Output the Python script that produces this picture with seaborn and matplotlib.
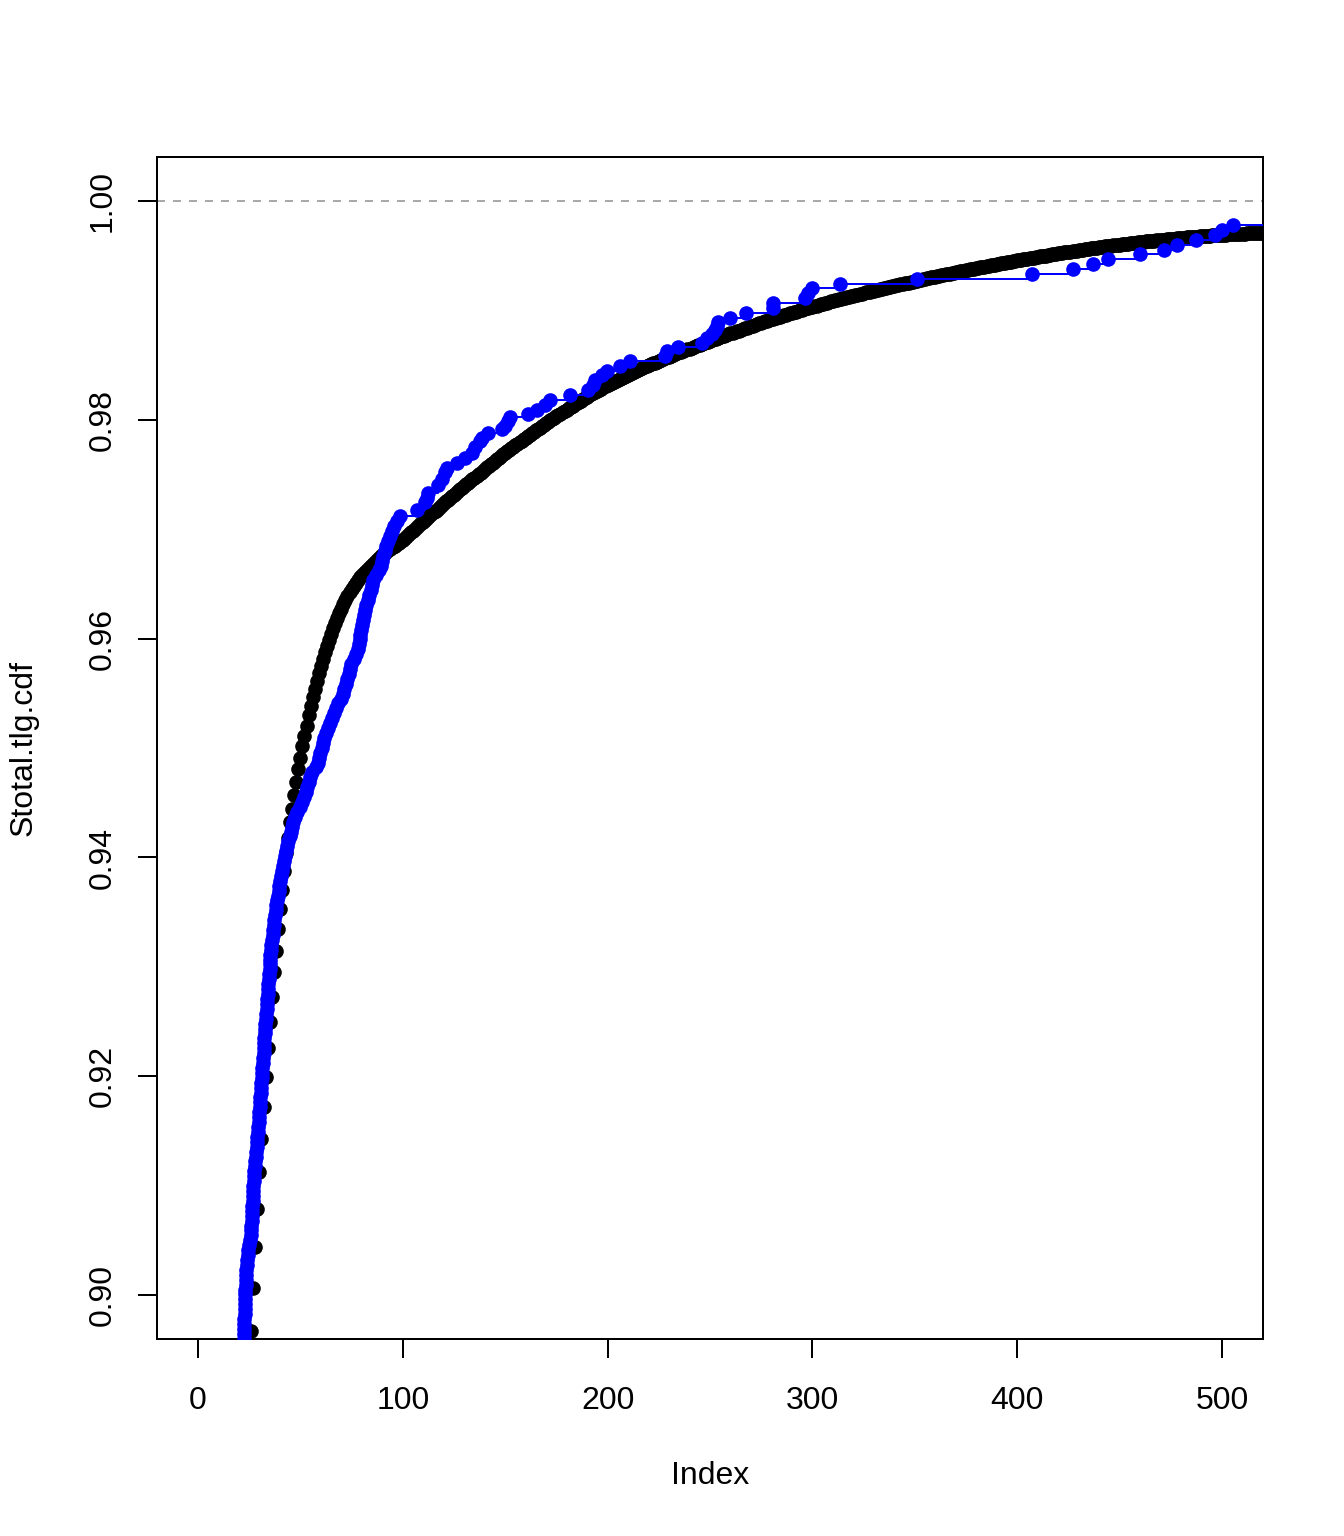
import numpy as np
import pandas as pd
import matplotlib
matplotlib.use("Agg")
import matplotlib.pyplot as plt
import seaborn as sns

# black series: Stotal.tlg.cdf, one value per index starting at index 26
first_index = 26
cdf_values = [
    0.89671, 0.90064, 0.90438, 0.90785, 0.91123, 0.91425, 0.91717, 0.91991, 0.92256, 0.92493,
    0.92726, 0.92950, 0.93146, 0.93342, 0.93525, 0.93699, 0.93872, 0.94037, 0.94178, 0.94320,
    0.94447, 0.94566, 0.94685, 0.94804, 0.94909, 0.95014, 0.95110, 0.95205, 0.95297, 0.95388,
    0.95470, 0.95543, 0.95616, 0.95689, 0.95753, 0.95817, 0.95881, 0.95936, 0.95991, 0.96046,
    0.96100, 0.96146, 0.96192, 0.96237, 0.96274, 0.96320, 0.96356, 0.96393, 0.96429, 0.96457,
    0.96484, 0.96511, 0.96539, 0.96562, 0.96584, 0.96603, 0.96621, 0.96639, 0.96658, 0.96676,
    0.96694, 0.96712, 0.96731, 0.96749, 0.96763, 0.96776, 0.96795, 0.96808, 0.96822, 0.96836,
    0.96849, 0.96863, 0.96877, 0.96890, 0.96904,
    0.96920, 0.96937, 0.96953, 0.96970, 0.96986, 0.97002, 0.97019, 0.97035, 0.97052, 0.97068,
    0.97085, 0.97102, 0.97119, 0.97136, 0.97153, 0.97169, 0.97186, 0.97203, 0.97220, 0.97237,
    0.97253, 0.97268, 0.97284, 0.97299, 0.97315, 0.97331, 0.97346, 0.97362, 0.97377, 0.97393,
    0.97409, 0.97424, 0.97440, 0.97455, 0.97471, 0.97486, 0.97502, 0.97517, 0.97533, 0.97548,
    0.97563, 0.97578, 0.97593, 0.97608, 0.97624, 0.97639, 0.97654, 0.97669, 0.97684, 0.97699,
    0.97713, 0.97726, 0.97740, 0.97754, 0.97768, 0.97781, 0.97795, 0.97809, 0.97822, 0.97836,
    0.97849, 0.97862, 0.97876, 0.97889, 0.97902, 0.97915, 0.97928, 0.97942, 0.97955, 0.97968,
    0.97980, 0.97993, 0.98005, 0.98017, 0.98030, 0.98042, 0.98054, 0.98066, 0.98079, 0.98091,
    0.98103, 0.98115, 0.98127, 0.98139, 0.98151, 0.98162, 0.98174, 0.98186, 0.98198, 0.98210,
    0.98221, 0.98231, 0.98242, 0.98252, 0.98263, 0.98273, 0.98284, 0.98294, 0.98305, 0.98315,
    0.98325, 0.98334, 0.98344, 0.98353, 0.98363, 0.98373, 0.98382, 0.98392, 0.98401, 0.98411,
    0.98420, 0.98428, 0.98437, 0.98446, 0.98455, 0.98463, 0.98472, 0.98481, 0.98489, 0.98498,
    0.98506, 0.98514, 0.98522, 0.98530, 0.98538, 0.98545, 0.98553, 0.98561, 0.98569, 0.98577,
    0.98584, 0.98592, 0.98599, 0.98606, 0.98614, 0.98621, 0.98628, 0.98635, 0.98643, 0.98650,
    0.98657, 0.98664, 0.98671, 0.98678, 0.98685, 0.98692, 0.98699, 0.98706, 0.98713, 0.98720,
    0.98727, 0.98734, 0.98740, 0.98747, 0.98754, 0.98761, 0.98768, 0.98774, 0.98781, 0.98788,
    0.98795, 0.98801, 0.98808, 0.98814, 0.98821, 0.98828, 0.98834, 0.98841, 0.98847, 0.98854,
    0.98860, 0.98867, 0.98873, 0.98879, 0.98886, 0.98892, 0.98898, 0.98904, 0.98911, 0.98917,
    0.98923, 0.98929, 0.98935, 0.98941, 0.98947, 0.98953, 0.98959, 0.98965, 0.98971, 0.98977,
    0.98983, 0.98988, 0.98994, 0.98999, 0.99005, 0.99011, 0.99016, 0.99022, 0.99027, 0.99033,
    0.99038, 0.99043, 0.99049, 0.99054, 0.99059, 0.99064, 0.99069, 0.99075, 0.99080, 0.99085,
    0.99090, 0.99095, 0.99100, 0.99105, 0.99110, 0.99114, 0.99119, 0.99124, 0.99129, 0.99134,
    0.99139, 0.99143, 0.99148, 0.99152, 0.99157, 0.99162, 0.99166, 0.99171, 0.99175, 0.99180,
    0.99184, 0.99189, 0.99193, 0.99198, 0.99202, 0.99206, 0.99211, 0.99215, 0.99220, 0.99224,
    0.99228, 0.99232, 0.99237, 0.99241, 0.99245, 0.99249, 0.99253, 0.99258, 0.99262, 0.99266,
    0.99270, 0.99274, 0.99278, 0.99282, 0.99287, 0.99291, 0.99295, 0.99299, 0.99303, 0.99307,
    0.99311, 0.99315, 0.99319, 0.99323, 0.99327, 0.99330, 0.99334, 0.99338, 0.99342, 0.99346,
    0.99350, 0.99354, 0.99357, 0.99361, 0.99365, 0.99369, 0.99373, 0.99376, 0.99380, 0.99384,
    0.99388, 0.99391, 0.99395, 0.99398, 0.99402, 0.99406, 0.99409, 0.99413, 0.99416, 0.99420,
    0.99424, 0.99427, 0.99431, 0.99434, 0.99438, 0.99441, 0.99445, 0.99448, 0.99452, 0.99455,
    0.99458, 0.99462, 0.99465, 0.99468, 0.99472, 0.99475, 0.99478, 0.99481, 0.99485, 0.99488,
    0.99491, 0.99494, 0.99497, 0.99500, 0.99504, 0.99507, 0.99510, 0.99513, 0.99516, 0.99519,
    0.99522, 0.99525, 0.99528, 0.99531, 0.99534, 0.99536, 0.99539, 0.99542, 0.99545, 0.99548,
    0.99551, 0.99553, 0.99556, 0.99559, 0.99562, 0.99564, 0.99567, 0.99570, 0.99572, 0.99575,
    0.99578, 0.99580, 0.99583, 0.99585, 0.99588, 0.99590, 0.99593, 0.99595, 0.99598, 0.99600,
    0.99602, 0.99604, 0.99607, 0.99609, 0.99611, 0.99613, 0.99615, 0.99618, 0.99620, 0.99622,
    0.99624, 0.99626, 0.99628, 0.99630, 0.99632, 0.99634, 0.99636, 0.99638, 0.99640, 0.99642,
    0.99644, 0.99646, 0.99647, 0.99649, 0.99651, 0.99653, 0.99655, 0.99656, 0.99658, 0.99660,
    0.99662, 0.99663, 0.99665, 0.99666, 0.99668, 0.99670, 0.99671, 0.99673, 0.99674, 0.99676,
    0.99677, 0.99679, 0.99680, 0.99681, 0.99683, 0.99684, 0.99685, 0.99686, 0.99688, 0.99689,
    0.99690, 0.99691, 0.99692, 0.99693, 0.99695, 0.99696, 0.99697, 0.99698, 0.99699, 0.99700,
    0.99701, 0.99702, 0.99703, 0.99704, 0.99705, 0.99706, 0.99707, 0.99708, 0.99709, 0.99710,
    0.99711, 0.99712,
]

# blue series: empirical cdf, jump locations and levels
ecdf_x = [
    22.2, 22.3, 22.4, 22.5, 22.6, 22.7, 22.8, 22.9, 22.9, 23.0,
    23.1, 23.2, 23.3, 23.4, 23.5, 23.6, 23.7, 23.9, 24.3, 24.6,
    25.0, 25.3, 25.7, 26.0, 26.1, 26.2, 26.3, 26.4, 26.5, 26.7,
    26.8, 26.9, 27.1, 27.3, 27.4, 27.6, 27.8, 28.0, 28.2, 28.4,
    28.6, 28.8, 29.0, 29.2, 29.4, 29.6, 29.8, 29.9, 30.1, 30.3,
    30.5, 30.6, 30.8, 31.0, 31.2, 31.3, 31.5, 31.7, 31.8, 32.0,
    32.1, 32.3, 32.4, 32.6, 32.7, 32.9, 33.1, 33.3, 33.5, 33.7,
    33.9, 34.1, 34.3, 34.4, 34.6, 34.8, 35.0, 35.1, 35.3, 35.4,
    35.6, 35.9, 36.1, 36.4, 36.7, 37.0, 37.3, 37.6, 37.9, 38.3,
    38.6, 39.0, 39.4, 39.8, 40.2, 40.7, 41.2, 41.6, 42.1, 42.6,
    43.0, 43.6, 44.2, 44.8, 45.3, 45.7, 46.5, 47.4, 48.5, 49.7,
    50.8, 51.8, 52.8, 53.4, 54.0, 54.8, 55.7, 57.4, 58.5, 59.2,
    59.8, 60.4, 60.9, 61.6, 62.5, 63.4, 64.4, 65.4, 66.3, 67.3,
    68.4, 69.6, 70.6, 71.4, 72.1, 72.8, 73.5, 74.1, 74.9, 76.3,
    77.2, 78.1, 78.5, 78.9, 79.2, 79.6, 80.0, 80.5, 81.0, 81.5,
    82.2, 82.9, 83.6, 84.3, 84.9, 85.6, 87.1, 88.5, 89.2, 89.8,
    90.4, 91.1, 91.8, 92.7, 93.8, 94.8, 95.9, 97.0,
    98.6, 106.8, 110.8, 111.7, 112.5, 117.3, 119.0, 120.6, 121.4, 126.3,
    130.4, 133.6, 135.3, 137.7, 138.5, 141.8, 148.3, 149.9, 151.5, 152.3,
    161.3, 165.5, 169.4, 171.9, 181.6, 190.6, 193.0, 193.8, 197.1, 199.6,
    206.1, 210.9, 228.0, 228.8, 234.5, 245.9, 248.4, 250.8, 252.4, 253.3,
    254.1, 259.8, 267.6, 280.9, 280.9, 296.4, 298.0, 299.7, 313.5, 350.9,
    407.1, 427.4, 437.2, 444.5, 460.0, 471.7, 478.2, 487.3, 496.6, 500.0,
    505.5, 540.0,
]
ecdf_y = [
    0.89557, 0.89602, 0.89647, 0.89692, 0.89737, 0.89782, 0.89827, 0.89872, 0.89917, 0.89962,
    0.90007, 0.90052, 0.90097, 0.90142, 0.90187, 0.90232, 0.90277, 0.90322, 0.90367, 0.90412,
    0.90457, 0.90502, 0.90547, 0.90592, 0.90637, 0.90682, 0.90727, 0.90772, 0.90817, 0.90862,
    0.90907, 0.90952, 0.90997, 0.91042, 0.91087, 0.91132, 0.91177, 0.91222, 0.91267, 0.91312,
    0.91357, 0.91402, 0.91447, 0.91492, 0.91537, 0.91582, 0.91627, 0.91672, 0.91717, 0.91762,
    0.91807, 0.91852, 0.91897, 0.91942, 0.91987, 0.92032, 0.92077, 0.92122, 0.92167, 0.92212,
    0.92257, 0.92302, 0.92347, 0.92392, 0.92437, 0.92482, 0.92527, 0.92572, 0.92617, 0.92662,
    0.92707, 0.92752, 0.92797, 0.92842, 0.92887, 0.92932, 0.92977, 0.93022, 0.93067, 0.93112,
    0.93157, 0.93202, 0.93247, 0.93292, 0.93337, 0.93382, 0.93427, 0.93472, 0.93517, 0.93562,
    0.93607, 0.93652, 0.93697, 0.93742, 0.93787, 0.93832, 0.93877, 0.93922, 0.93967, 0.94012,
    0.94057, 0.94102, 0.94147, 0.94192, 0.94237, 0.94282, 0.94327, 0.94372, 0.94417, 0.94462,
    0.94507, 0.94552, 0.94597, 0.94642, 0.94687, 0.94732, 0.94777, 0.94822, 0.94867, 0.94912,
    0.94957, 0.95002, 0.95047, 0.95092, 0.95137, 0.95182, 0.95227, 0.95272, 0.95317, 0.95362,
    0.95407, 0.95452, 0.95497, 0.95542, 0.95587, 0.95632, 0.95677, 0.95722, 0.95767, 0.95812,
    0.95857, 0.95902, 0.95947, 0.95992, 0.96037, 0.96082, 0.96127, 0.96172, 0.96217, 0.96262,
    0.96307, 0.96352, 0.96397, 0.96442, 0.96487, 0.96532, 0.96577, 0.96622, 0.96667, 0.96712,
    0.96757, 0.96802, 0.96847, 0.96892, 0.96937, 0.96982, 0.97027, 0.97072,
    0.97117, 0.97178, 0.97247, 0.97288, 0.97333, 0.97406, 0.97461, 0.97521, 0.97559, 0.97607,
    0.97651, 0.97699, 0.97749, 0.97802, 0.97833, 0.97877, 0.97913, 0.97941, 0.97984, 0.98023,
    0.98055, 0.98091, 0.98132, 0.98183, 0.98228, 0.98274, 0.98320, 0.98365, 0.98406, 0.98447,
    0.98487, 0.98532, 0.98578, 0.98624, 0.98667, 0.98700, 0.98744, 0.98781, 0.98822, 0.98858,
    0.98890, 0.98932, 0.98977, 0.99020, 0.99066, 0.99114, 0.99160, 0.99201, 0.99244, 0.99288,
    0.99333, 0.99376, 0.99422, 0.99466, 0.99511, 0.99553, 0.99598, 0.99644, 0.99689, 0.99735,
    0.99781, 0.99781,
]

x_ticks = [0, 100, 200, 300, 400, 500]
y_ticks = [0.90, 0.92, 0.94, 0.96, 0.98, 1.00]

sns.set_style("ticks")
plt.rcParams["font.family"] = ["Liberation Sans", "DejaVu Sans"]
plt.rcParams["font.size"] = 12
plt.rcParams["text.color"] = "black"
plt.rcParams["axes.labelcolor"] = "black"

cdf_df = pd.DataFrame({
    "index": np.arange(first_index, first_index + len(cdf_values)),
    "cdf": cdf_values,
})
ecdf_df = pd.DataFrame({"x": ecdf_x, "y": ecdf_y})

fig = plt.figure(figsize=(7, 8), dpi=192)
ax = fig.add_axes([157 / 1344, 1 - 1339 / 1536, 1106 / 1344, 1182 / 1536])

sns.scatterplot(data=cdf_df, x="index", y="cdf", color="black", s=30,
                linewidth=0, ax=ax, zorder=2)
ax.axhline(1.0, color="#a9a9a9", linestyle=(0, (4, 4)), linewidth=0.75, zorder=1)
sns.lineplot(data=ecdf_df, x="x", y="y", color="blue", linewidth=0.75,
             drawstyle="steps-post", estimator=None, sort=False, ax=ax, zorder=3)
sns.scatterplot(data=ecdf_df, x="x", y="y", color="blue", s=30,
                linewidth=0, ax=ax, zorder=4)

ax.set_xlim(-20, 520)
ax.set_ylim(0.896, 1.004)
ax.set_xticks(x_ticks)
ax.set_xticklabels([str(t) for t in x_ticks])
ax.set_yticks(y_ticks)
ax.set_yticklabels([f"{t:.2f}" for t in y_ticks], rotation=90, va="center")

for side in ["left", "right", "top", "bottom"]:
    ax.spines[side].set_visible(True)
    ax.spines[side].set_color("black")
    ax.spines[side].set_linewidth(0.75)

ax.tick_params(axis="both", direction="out", length=7.2, width=0.75,
               color="black", labelsize=12, labelcolor="black")
ax.tick_params(axis="x", pad=10.4)
ax.tick_params(axis="y", pad=7.4)

ax.set_xlabel("Index", fontsize=12, color="black")
ax.set_ylabel("Stotal.tlg.cdf", fontsize=12, color="black")
ax.xaxis.label.set_va("center")
ax.yaxis.label.set_va("center")
ax.xaxis.set_label_coords(0.5, (1339 - 1476) / 1182)
ax.yaxis.set_label_coords((24 - 157) / 1106, 0.5)

fig.savefig("out.png", dpi=192, facecolor="white")
